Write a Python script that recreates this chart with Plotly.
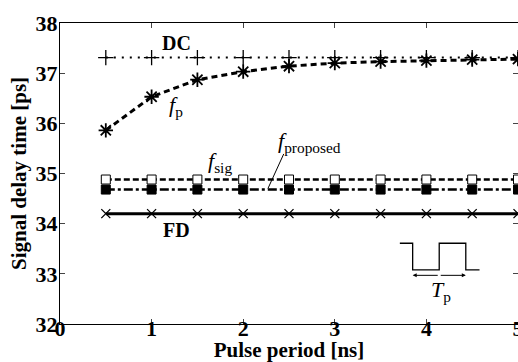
import plotly.graph_objects as go

# Pulse period [ns]
period = [0.5, 1.0, 1.5, 2.0, 2.5, 3.0, 3.5, 4.0, 4.5, 5.0]

# Signal delay time [ps] for each model
dc = [37.31, 37.31, 37.31, 37.31, 37.31, 37.31, 37.31, 37.31, 37.31, 37.31]
f_p = [35.86, 36.53, 36.87, 37.03, 37.14, 37.20, 37.23, 37.25, 37.27, 37.28]
f_sig = [34.88, 34.88, 34.88, 34.88, 34.88, 34.88, 34.88, 34.88, 34.88, 34.88]
f_proposed = [34.68, 34.68, 34.68, 34.68, 34.68, 34.68, 34.68, 34.68, 34.68, 34.68]
fd = [34.20, 34.20, 34.20, 34.20, 34.20, 34.20, 34.20, 34.20, 34.20, 34.20]

# Axis ticks
x_ticks = [0, 1, 2, 3, 4, 5]
y_ticks = [32, 33, 34, 35, 36, 37, 38]

# Pulse-waveform inset (data coordinates)
pulse_x = [3.71, 3.85, 3.85, 4.14, 4.14, 4.43, 4.43, 4.58]
pulse_y = [33.61, 33.61, 33.08, 33.08, 33.61, 33.61, 33.08, 33.08]
span_x = [3.85, 4.43]
span_y = 32.97

FONT = "Liberation Serif"

fig = go.Figure()

fig.add_trace(go.Scatter(
    x=period, y=dc, mode="lines+markers",
    line=dict(color="black", width=2, dash="2px,6px"),
    marker=dict(symbol="cross-thin-open", size=11, line=dict(color="black", width=1.3)),
))
fig.add_trace(go.Scatter(
    x=period, y=f_p, mode="lines+markers",
    line=dict(color="black", width=3, dash="6px,4px"),
    marker=dict(symbol="asterisk-open", size=12, line=dict(color="black", width=1.8)),
))
fig.add_trace(go.Scatter(
    x=period, y=f_sig, mode="lines+markers",
    line=dict(color="black", width=2.5, dash="6px,3px"),
    marker=dict(symbol="square", size=9, color="white", line=dict(color="black", width=1)),
))
fig.add_trace(go.Scatter(
    x=period, y=f_proposed, mode="lines+markers",
    line=dict(color="black", width=2.5, dash="9px,3px,3px,3px"),
    marker=dict(symbol="square", size=9, color="black", line=dict(color="black", width=1)),
))
fig.add_trace(go.Scatter(
    x=period, y=fd, mode="lines+markers",
    line=dict(color="black", width=3),
    marker=dict(symbol="x-thin-open", size=9, line=dict(color="black", width=1.3)),
))

# Pulse waveform
fig.add_trace(go.Scatter(
    x=pulse_x, y=pulse_y, mode="lines",
    line=dict(color="black", width=1.3),
))

lbl = dict(family=FONT, size=20, color="black")
ital = dict(family=FONT, size=22, color="black")
ann = [
    dict(x=1.27, y=37.6, text="<b>DC</b>", font=lbl),
    dict(x=1.27, y=33.87, text="<b>FD</b>", font=lbl),
    dict(x=1.27, y=36.35, text="<i>f</i><sub>p</sub>", font=ital),
    dict(x=1.75, y=35.22, text="<i>f</i><sub>sig</sub>", font=ital),
    dict(x=2.72, y=35.62, text="<i>f</i><sub>proposed</sub>", font=ital),
    dict(x=4.16, y=32.66, text="<i>T</i><sub>p</sub>", font=ital),
]
annotations = [dict(a, xref="x", yref="y", showarrow=False) for a in ann]

# leader line from the f_proposed label to its curve
annotations.append(dict(
    x=2.27, y=34.70, ax=2.45, ay=35.42, xref="x", yref="y", axref="x", ayref="y",
    text="", showarrow=True, arrowhead=0, arrowwidth=1, arrowcolor="black",
))
# double-headed period arrow
mid = (span_x[0] + span_x[1]) / 2
for end in span_x:
    annotations.append(dict(
        x=end, y=span_y, ax=mid, ay=span_y, xref="x", yref="y", axref="x", ayref="y",
        text="", showarrow=True, arrowhead=2, arrowsize=0.8, arrowwidth=1, arrowcolor="black",
    ))

tickfont = dict(family=FONT, size=22, color="black")
titlefont = dict(family=FONT, size=21, color="black")
fig.update_layout(
    width=518, height=362,
    margin=dict(l=60, r=0, t=23, b=38),
    paper_bgcolor="white", plot_bgcolor="white",
    showlegend=False,
    annotations=annotations,
    xaxis=dict(
        range=[0, 5], tickvals=x_ticks, ticktext=[f"<b>{v}</b>" for v in x_ticks],
        ticks="inside", ticklen=5, ticklabelstandoff=-15, ticklabeloverflow="allow",
        showline=True, linecolor="black", linewidth=1, mirror="ticks",
        showgrid=False, zeroline=False, tickfont=tickfont,
        title=dict(text="<b>Pulse period [ns]</b>", font=titlefont, standoff=4),
        automargin=False,
    ),
    yaxis=dict(
        range=[32, 38], tickvals=y_ticks, ticktext=[f"<b>{v}</b>" for v in y_ticks],
        ticks="inside", ticklen=5, ticklabelstandoff=-3,
        showline=True, linecolor="black", linewidth=1, mirror="ticks",
        showgrid=False, zeroline=False, tickfont=tickfont,
        title=dict(text="<b>Signal delay time [ps]</b>", font=titlefont, standoff=3),
        automargin=False,
    ),
)

fig.write_html("out.html")
